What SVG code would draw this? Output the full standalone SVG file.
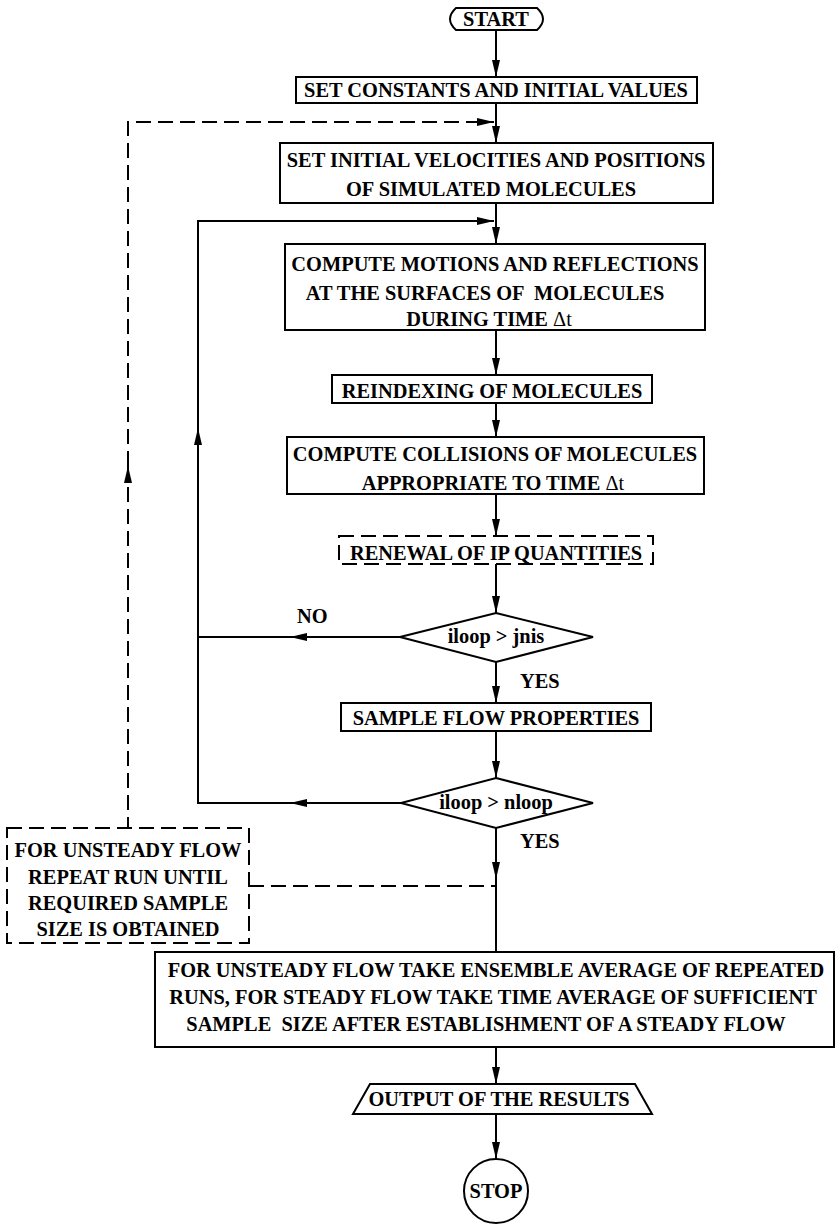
<svg xmlns="http://www.w3.org/2000/svg" width="839" height="1226" viewBox="0 0 839 1226" font-family="'Liberation Serif', 'Times New Roman', serif">
<style>
  text { font-family: "Liberation Serif", "Times New Roman", serif; font-weight: bold; font-size: 20.4px; fill: #000; }
  .c { text-anchor: middle; }
  .nb { font-weight: normal; }
  .box { fill: #fff; stroke: #000; stroke-width: 2; }
  .dbox { fill: #fff; stroke: #000; stroke-width: 2; stroke-dasharray: 15 7; }
  .ln { fill: none; stroke: #000; stroke-width: 2; }
  .dln { fill: none; stroke: #000; stroke-width: 2; stroke-dasharray: 15 7; }
  .ah { marker-end: url(#arrow); }
</style>
<defs>
  <marker id="arrow" markerUnits="userSpaceOnUse" markerWidth="18" markerHeight="10" refX="17" refY="5" orient="auto">
    <path d="M0,1 L17,5 L0,9 Z" fill="#000"/>
  </marker>
</defs>
<rect width="839" height="1226" fill="#fff"/>

<g id="connectors">
  <path class="ln ah" d="M496,30 V77"/>
  <path class="ln ah" d="M496,103 V143"/>
  <path class="dln ah" d="M128,832 V466"/>
  <path class="dln ah" d="M128,466 V122 H494"/>
  <path class="ln ah" d="M496,203 V244"/>
  <path class="ln ah" d="M496,330 V375"/>
  <path class="ln ah" d="M496,403 V437"/>
  <path class="ln ah" d="M496,494 V536"/>
  <path class="ln ah" d="M496,564 V613"/>
  <path class="ln ah" d="M400,637 H290"/>
  <path class="ln ah" d="M290,637 H198 V428"/>
  <path class="ln ah" d="M198,428 V221 H494"/>
  <path class="ln ah" d="M496,662 V703"/>
  <path class="ln ah" d="M496,731 V778"/>
  <path class="ln ah" d="M401,803 H290"/>
  <path class="ln" d="M290,803 H198 V637"/>
  <path class="ln ah" d="M496,828 V879"/>
  <path class="ln" d="M496,879 V952"/>
  <path class="dln" d="M249,886 H496"/>
  <path class="ln ah" d="M496,1047 V1084"/>
  <path class="ln ah" d="M496,1114 V1159"/>
</g>

<g id="start">
  <path class="box" d="M456,8 H537 Q549,19 537,30 H456 Q444,19 456,8 Z"/>
  <text class="c" x="496" y="26">START</text>
</g>

<g id="set-constants">
  <rect class="box" x="296" y="77" width="401" height="26"/>
  <text class="c" x="496" y="97">SET CONSTANTS AND INITIAL VALUES</text>
</g>

<g id="set-initial">
  <rect class="box" x="280" y="143" width="433" height="60"/>
  <text class="c" x="496" y="167">SET INITIAL VELOCITIES AND POSITIONS</text>
  <text class="c" x="491" y="196">OF SIMULATED MOLECULES</text>
</g>

<g id="compute-motions">
  <rect class="box" x="285" y="244" width="420" height="86"/>
  <text class="c" x="495" y="271">COMPUTE MOTIONS AND REFLECTIONS</text>
  <text class="c" x="485" y="300" style="white-space:pre">AT THE SURFACES OF  MOLECULES</text>
  <text class="c" x="489" y="326">DURING TIME <tspan class="nb">Δt</tspan></text>
</g>

<g id="reindexing">
  <rect class="box" x="332" y="375" width="320" height="28"/>
  <text class="c" x="492" y="398">REINDEXING OF MOLECULES</text>
</g>

<g id="compute-collisions">
  <rect class="box" x="287" y="437" width="417" height="57"/>
  <text class="c" x="495" y="461">COMPUTE COLLISIONS OF MOLECULES</text>
  <text class="c" x="493" y="490">APPROPRIATE TO TIME <tspan class="nb">Δt</tspan></text>
</g>

<g id="renewal">
  <rect class="dbox" x="339" y="536" width="314" height="28"/>
  <text class="c" x="496" y="560">RENEWAL OF IP QUANTITIES</text>
</g>

<g id="decision-jnis">
  <path class="box" d="M496,613 L593,637 L496,662 L400,637 Z"/>
  <text class="c" x="496" y="643">iloop &gt; jnis</text>
  <text x="297" y="623">NO</text>
  <text x="520" y="688">YES</text>
</g>

<g id="sample">
  <rect class="box" x="341" y="703" width="310" height="28"/>
  <text class="c" x="496" y="725">SAMPLE FLOW PROPERTIES</text>
</g>

<g id="decision-nloop">
  <path class="box" d="M496,778 L593,803 L496,828 L401,803 Z"/>
  <text class="c" x="496" y="809">iloop &gt; nloop</text>
  <text x="520" y="848">YES</text>
</g>

<g id="unsteady-note">
  <rect class="dbox" x="7" y="828" width="242" height="115"/>
  <text class="c" x="128" y="857">FOR UNSTEADY FLOW</text>
  <text class="c" x="128" y="884">REPEAT RUN UNTIL</text>
  <text class="c" x="128" y="910">REQUIRED SAMPLE</text>
  <text class="c" x="128" y="936">SIZE IS OBTAINED</text>
</g>

<g id="average">
  <rect class="box" x="155" y="952" width="679" height="95"/>
  <text class="c" x="496" y="977">FOR UNSTEADY FLOW TAKE ENSEMBLE AVERAGE OF REPEATED</text>
  <text class="c" x="493" y="1004">RUNS, FOR STEADY FLOW TAKE TIME AVERAGE OF SUFFICIENT</text>
  <text class="c" x="486" y="1031" style="white-space:pre">SAMPLE  SIZE AFTER ESTABLISHMENT OF A STEADY FLOW</text>
</g>

<g id="output">
  <path class="box" d="M370,1084 H635 L652,1114 H353 Z"/>
  <text class="c" x="499" y="1106">OUTPUT OF THE RESULTS</text>
</g>

<g id="stop">
  <circle class="box" cx="496" cy="1191" r="32"/>
  <text class="c" x="496" y="1198">STOP</text>
</g>
</svg>
